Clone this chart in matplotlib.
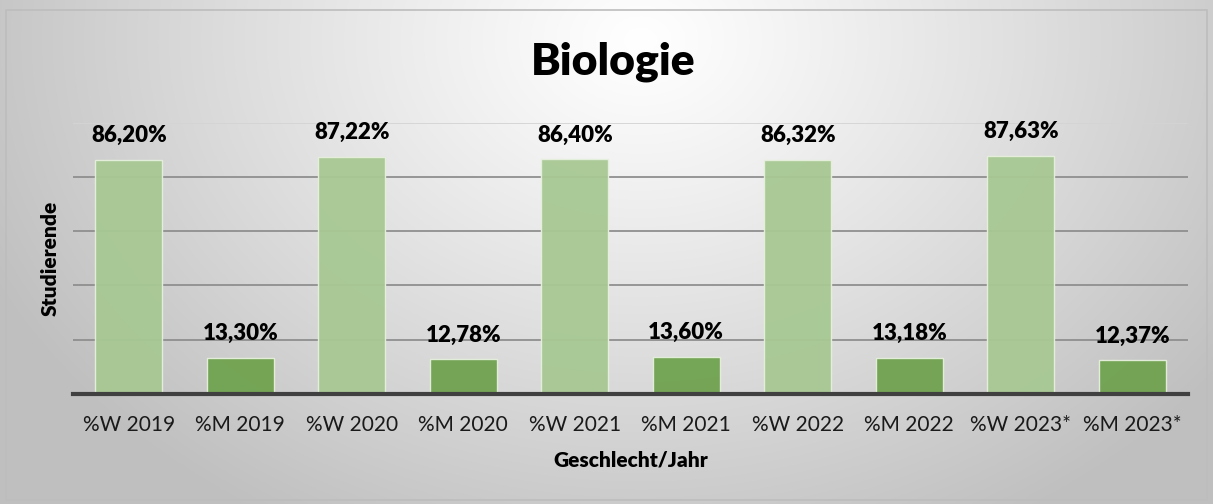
import numpy as np
import matplotlib
matplotlib.use("Agg")
import matplotlib.pyplot as plt
from matplotlib.patches import Rectangle

categories = ["%W 2019", "%M 2019", "%W 2020", "%M 2020", "%W 2021", "%M 2021",
              "%W 2022", "%M 2022", "%W 2023*", "%M 2023*"]
values = [86.20, 13.30, 87.22, 12.78, 86.40, 13.60, 86.32, 13.18, 87.63, 12.37]
labels = ["86,20%", "13,30%", "87,22%", "12,78%", "86,40%", "13,60%",
          "86,32%", "13,18%", "87,63%", "12,37%"]
yticks = [0, 20, 40, 60, 80, 100]

plt.rcParams['font.family'] = ['Lato', 'DejaVu Sans']

W, H = 1213, 504
fig = plt.figure(figsize=(W / 100, H / 100), dpi=100)

# background radial gradient
bg = fig.add_axes([0, 0, 1, 1])
yy, xx = np.mgrid[0:H, 0:W]
cx, cy = 640, 40
d = np.sqrt(((xx - cx) / 720.0) ** 2 + ((yy - cy) / 560.0) ** 2)
d = np.clip(d, 0, 1)
val = 1.0 - 0.25 * d ** 1.1
img = np.dstack([val, val, val])
bg.imshow(img, extent=[0, W, H, 0], aspect='auto', zorder=0)
bg.add_patch(Rectangle((6, 10), 1201, 490, fill=False, edgecolor='#bdbdbd', lw=1.2, zorder=1))
bg.set_xlim(0, W)
bg.set_ylim(H, 0)
bg.axis('off')

ax = fig.add_axes([73 / W, 1 - 394 / H, (1188 - 73) / W, (394 - 122.5) / H])
ax.patch.set_alpha(0)
x = np.arange(len(categories))
colors = ['#a7c893' if i % 2 == 0 else '#70a24f' for i in range(len(categories))]
bars = ax.bar(x, values, width=0.6, color=colors, edgecolor='#e6f0dd', linewidth=1.0,
              alpha=0.95, zorder=3)
for xi, v, lab in zip(x, values, labels):
    ax.annotate(lab, (xi, v), xytext=(0, 10), textcoords='offset points',
                ha='center', va='bottom', fontsize=16, fontweight='heavy', color='#000000', zorder=5)

ax.set_xlim(-0.5, len(categories) - 0.5)
ax.set_ylim(0, 100)
ax.set_yticks(yticks)
ax.set_yticklabels([])
ax.tick_params(axis='y', length=0)
ax.tick_params(axis='x', length=0, pad=15, labelsize=15, labelcolor='#1a1a1a')
ax.set_xticks(x)
ax.set_xticklabels(categories)
for yv in yticks[1:]:
    ax.axhline(yv, color='#d4d4d4' if yv == 100 else '#8f8f8f', lw=1.3, zorder=1)
for s in ['top', 'right', 'left']:
    ax.spines[s].set_visible(False)
ax.spines['bottom'].set_color('#404040')
ax.spines['bottom'].set_linewidth(3)
ax.spines['bottom'].set_zorder(4)

ax.set_xlabel("Geschlecht/Jahr", fontsize=15, fontweight='heavy', labelpad=11)
ax.set_ylabel("Studierende", fontsize=15, fontweight='heavy', labelpad=6)

fig.text(613 / W, 1 - 62 / H, "Biologie", ha='center', va='center',
         fontsize=32, fontweight='heavy', color='#000000')

fig.savefig("out.png", dpi=100)
